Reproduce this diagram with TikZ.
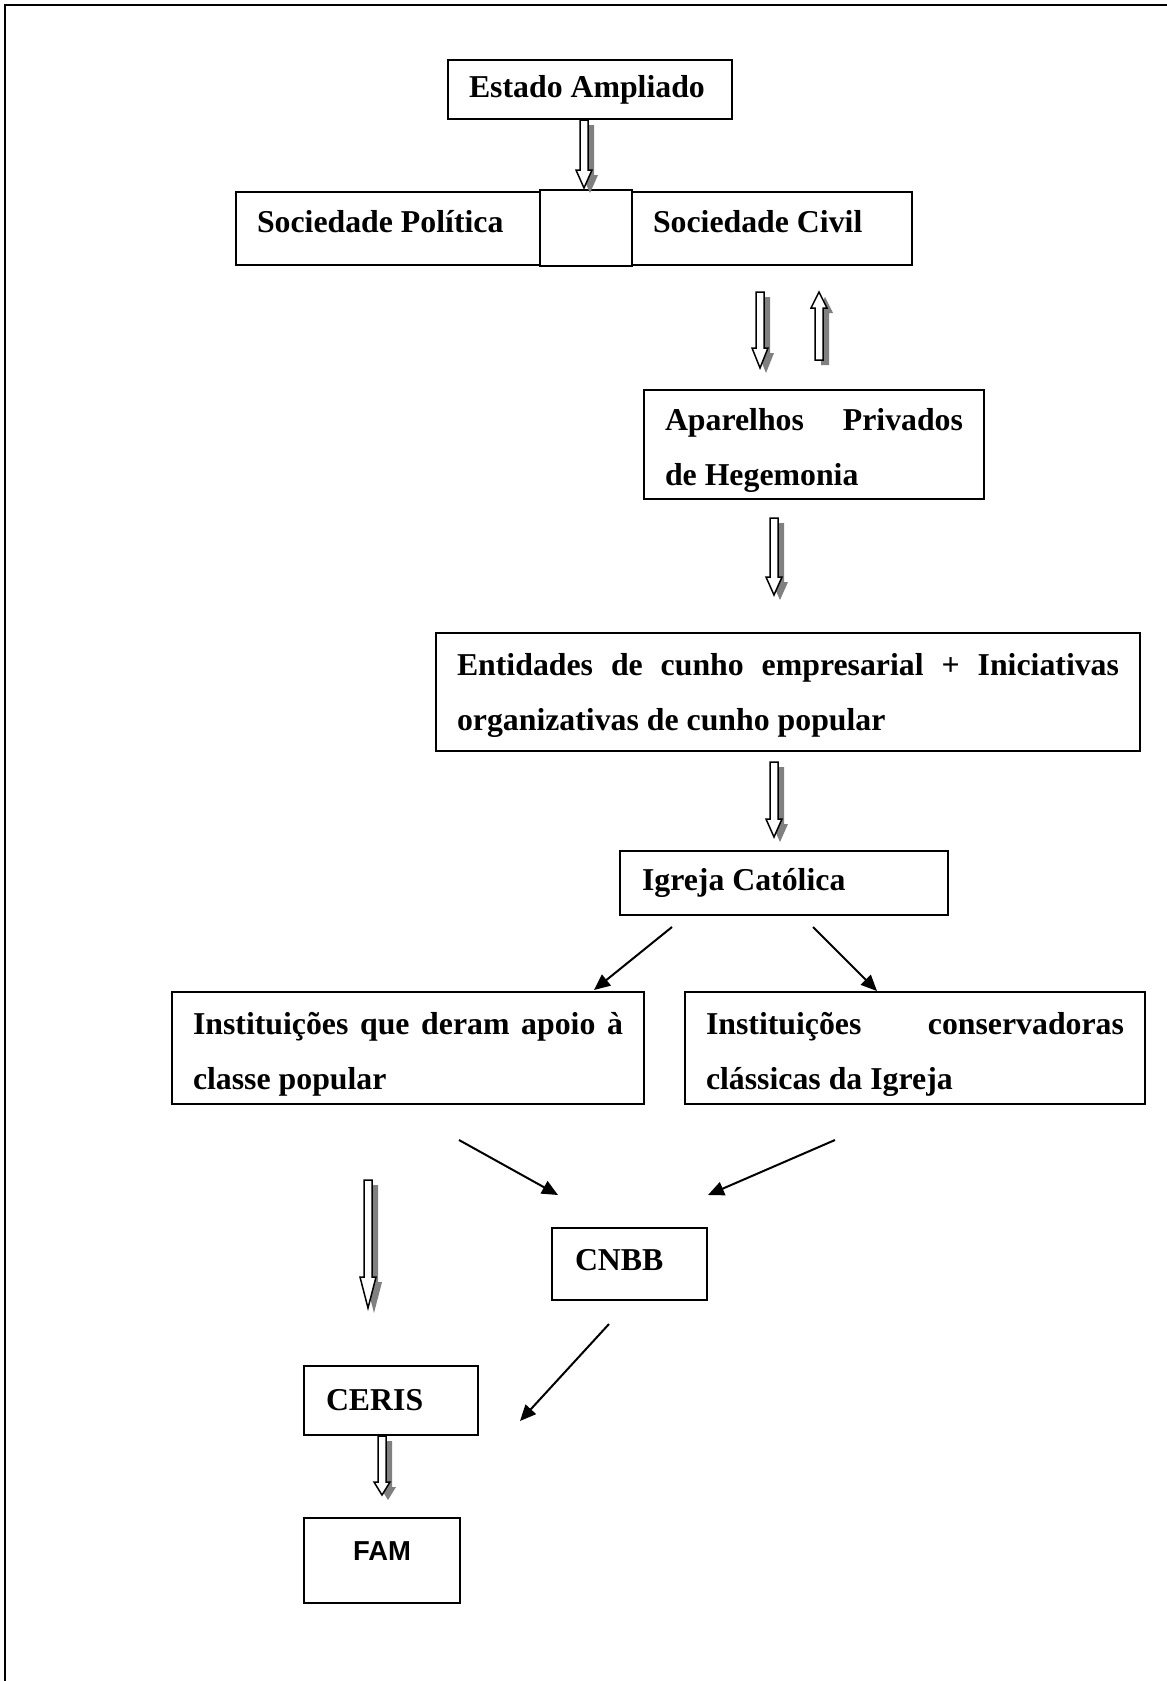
\documentclass[tikz,border=0pt]{standalone}
\usepackage{fontspec}
\setmainfont{Liberation Serif}
\newfontfamily\famfont{Liberation Sans}
\usetikzlibrary{arrows.meta}

\tikzset{
	caixa/.style={draw,line width=1pt,anchor=north west,align=justify,inner ysep=0pt,
		font=\bfseries\fontsize{15.9}{27.5}\selectfont},
	seta/.style={line width=1pt,-{Triangle[length=8pt,width=7pt]}},
	oca/.style={fill=white,draw=black,line width=0.75pt}
}
\newcommand\just[2]{\makebox[#1][s]{#2}}
\newcommand\hollowarrow[4]{%
	\fill[gray,shift={(6,5)}] (#1-4,#2) -- (#1+4,#2) -- (#1+4,#3) -- (#1+8,#3) -- (#1,#4) -- (#1-8,#3) -- (#1-4,#3) -- cycle;
	\draw[oca] (#1-4,#2) -- (#1+4,#2) -- (#1+4,#3) -- (#1+8,#3) -- (#1,#4) -- (#1-8,#3) -- (#1-4,#3) -- cycle;}

\begin{document}
\begin{tikzpicture}[x=0.5pt,y=-0.5pt]
	\useasboundingbox (0,0) rectangle (1167,1681);
	\draw[line width=1.4pt] (5,1681) -- (5,5) -- (1167,5);
	
	\node[caixa,text width=121pt,minimum height=29.5pt,inner xsep=10.5pt] (estado) at (447,59) {Estado Ampliado};
	\node[caixa,text width=131pt,minimum height=36.5pt,inner xsep=10.5pt,text depth=7.5pt] (politica) at (235,191) {Sociedade Política};
	\node[caixa,text width=119pt,minimum height=36.5pt,inner xsep=10.5pt,text depth=7.5pt] (civil) at (631,191) {Sociedade Civil};
	\node[caixa,minimum width=46pt,minimum height=38pt,inner xsep=0pt] (meio) at (539,189) {};
	\node[caixa,text width=149pt,minimum height=54.5pt,inner xsep=10.5pt,text height=17pt] (aparelhos) at (643,389)
		{\just{149pt}{Aparelhos Privados}\\de Hegemonia};
	\node[caixa,text width=331pt,minimum height=59pt,inner xsep=10.5pt,text height=14.5pt] (entidades) at (435,632)
		{\just{331pt}{Entidades de cunho empresarial + Iniciativas}\\organizativas de cunho popular};
	\node[caixa,text width=142pt,minimum height=32pt,inner xsep=11pt] (igreja) at (619,850) {Igreja Católica};
	\node[caixa,text width=215pt,minimum height=56pt,inner xsep=10.5pt,text height=17pt] (populares) at (171,991)
		{\just{215pt}{Instituições que deram apoio à}\\classe popular};
	\node[caixa,text width=209pt,minimum height=56pt,inner xsep=10.5pt,text height=17pt] (conservadoras) at (684,991)
		{\just{209pt}{Instituições conservadoras}\\clássicas da Igreja};
	\node[caixa,text width=54.5pt,minimum height=36pt,inner xsep=11.5pt,text depth=4.3pt] (cnbb) at (551,1227) {CNBB};
	\node[caixa,text width=65pt,minimum height=34.5pt,inner xsep=11pt] (ceris) at (303,1365) {CERIS};
	\node[caixa,text width=78pt,minimum height=42.5pt,inner xsep=0pt,align=center,text depth=9.7pt,
		font=\famfont\bfseries\fontsize{13.7}{16}\selectfont] (fam) at (303,1517) {FAM};
	
	\foreach \x/\a/\b/\c in {584/120/170/188,760/292/348/368,819/360/308/292,774/518/577/595,
		774/762/819/837,368/1180/1277/1308,382/1436/1482/1495}
	\hollowarrow{\x}{\a}{\b}{\c};
	
	\draw[seta] ([shift={(53,11)}]igreja.south west) -- ([shift={(-51,-1)}]populares.north east);
	\draw[seta] ([shift={(-136,11)}]igreja.south east) -- ([shift={(193,0)}]conservadoras.north west);
	\draw[seta] ([shift={(288,35)}]populares.south west) -- ([shift={(7,-32)}]cnbb.north west);
	\draw[seta] ([shift={(151,35)}]conservadoras.south west) -- ([shift={(0,-32)}]cnbb.north east);
	\draw[seta] ([shift={(58,23)}]cnbb.south west) -- ([shift={(41,56)}]ceris.north east);
\end{tikzpicture}
\end{document}
